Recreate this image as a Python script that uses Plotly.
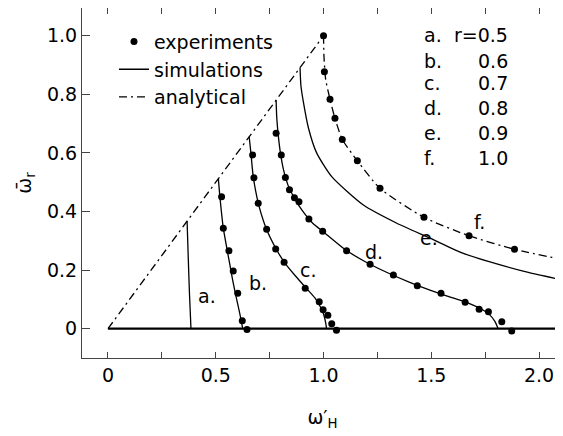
import plotly.graph_objects as go

# ---------------- data ----------------
# experiments (dots)
exp_b_x = [0.527, 0.535, 0.561, 0.581, 0.602, 0.623, 0.645]
exp_b_y = [0.450, 0.343, 0.266, 0.197, 0.121, 0.027, -0.003]
exp_c_x = [0.671, 0.677, 0.697, 0.736, 0.778, 0.817, 0.915, 0.980, 0.998, 1.020, 1.038, 1.060]
exp_c_y = [0.593, 0.515, 0.428, 0.339, 0.272, 0.227, 0.138, 0.092, 0.065, 0.046, 0.017, -0.005]
exp_d_x = [0.780, 0.804, 0.823, 0.842, 0.865, 0.886, 0.932, 0.996, 1.107, 1.216, 1.324, 1.435,
           1.545, 1.657, 1.722, 1.765, 1.827, 1.873]
exp_d_y = [0.667, 0.593, 0.516, 0.474, 0.447, 0.433, 0.374, 0.333, 0.266, 0.220, 0.183, 0.147,
           0.121, 0.090, 0.066, 0.058, 0.024, -0.008]
exp_f_x = [1.000, 1.004, 1.030, 1.053, 1.087, 1.157, 1.262, 1.466, 1.675, 1.886, 2.091]
exp_f_y = [1.000, 0.877, 0.783, 0.718, 0.646, 0.573, 0.479, 0.380, 0.317, 0.271, 0.239]

# simulations (solid lines)
sim_a_x = [0.367, 0.372, 0.378, 0.385]
sim_a_y = [0.367, 0.250, 0.120, 0.000]
sim_b_x = [0.512, 0.518, 0.526, 0.535, 0.550, 0.565, 0.580, 0.597, 0.612, 0.625]
sim_b_y = [0.512, 0.460, 0.400, 0.343, 0.280, 0.220, 0.160, 0.100, 0.050, 0.000]
sim_c_x = [0.655, 0.663, 0.672, 0.685, 0.700, 0.735, 0.780, 0.820, 0.870, 0.920, 0.960,
           0.985, 1.000, 1.010, 1.014]
sim_c_y = [0.655, 0.600, 0.530, 0.470, 0.420, 0.340, 0.272, 0.225, 0.180, 0.138, 0.105,
           0.075, 0.050, 0.020, 0.000]
sim_d_x = [0.780, 0.783, 0.790, 0.800, 0.815, 0.835, 0.865, 0.900, 0.950, 1.000, 1.100,
           1.200, 1.300, 1.400, 1.500, 1.600, 1.680, 1.730, 1.770, 1.795, 1.810]
sim_d_y = [0.780, 0.720, 0.660, 0.600, 0.540, 0.490, 0.445, 0.405, 0.360, 0.330, 0.270,
           0.226, 0.190, 0.158, 0.130, 0.105, 0.085, 0.068, 0.048, 0.025, 0.000]
sim_e_x = [0.891, 0.895, 0.905, 0.930, 0.968, 1.038, 1.185, 1.340, 1.494,
           1.649, 1.800, 1.950, 2.110]
sim_e_y = [0.891, 0.830, 0.780, 0.685, 0.600, 0.519, 0.422, 0.360, 0.309,
           0.257, 0.222, 0.192, 0.166]
sim_zero_x = [0.0, 2.11]
sim_zero_y = [0.0, 0.0]

# analytical (dash-dot)
ana_diag_x = [0.0, 1.0]
ana_diag_y = [0.0, 1.0]
ana_f_x = [1.000, 1.002, 1.010, 1.030, 1.053, 1.087, 1.157, 1.262, 1.466, 1.675, 1.886, 2.110]
ana_f_y = [1.000, 0.930, 0.850, 0.783, 0.718, 0.646, 0.573, 0.479, 0.380, 0.317, 0.271, 0.236]

# curve labels
curve_labels = ["a.", "b.", "c.", "d.", "e.", "f."]
curve_label_x = [0.458, 0.697, 0.930, 1.236, 1.487, 1.723]
curve_label_y = [0.110, 0.155, 0.200, 0.263, 0.309, 0.365]

# r-value table
r_letters = ["a.", "b.", "c.", "d.", "e.", "f."]
r_values = ["r=0.5", "0.6", "0.7", "0.8", "0.9", "1.0"]
r_rows_y = [1.002, 0.915, 0.839, 0.753, 0.669, 0.583]

x_tickvals = [0, 0.5, 1.0, 1.5, 2.0]
x_ticktext = ["0", "0.5", "1.0", "1.5", "2.0"]
y_tickvals = [0, 0.2, 0.4, 0.6, 0.8, 1.0]
y_ticktext = ["0", "0.2", "0.4", "0.6", "0.8", "1.0"]

# ---------------- figure ----------------
FONT = "DejaVu Sans"
fig = go.Figure()
line_w = 1.3
dashdot = "8px,4px,2px,4px"

# analytical
fig.add_trace(go.Scatter(x=ana_diag_x, y=ana_diag_y, mode="lines", name="analytical",
                         line=dict(color="black", width=line_w, dash=dashdot),
                         showlegend=True, legendrank=3))
fig.add_trace(go.Scatter(x=ana_f_x, y=ana_f_y, mode="lines", showlegend=False,
                         line=dict(color="black", width=line_w, dash=dashdot,
                                   shape="spline", smoothing=0.6)))

# simulations
sims = [(sim_a_x, sim_a_y), (sim_b_x, sim_b_y), (sim_c_x, sim_c_y),
        (sim_d_x, sim_d_y), (sim_e_x, sim_e_y)]
for i, (sx, sy) in enumerate(sims):
    fig.add_trace(go.Scatter(x=sx, y=sy, mode="lines", name="simulations",
                             line=dict(color="black", width=line_w, shape="spline",
                                       smoothing=0.6),
                             showlegend=(i == 0), legendrank=2))
fig.add_trace(go.Scatter(x=sim_zero_x, y=sim_zero_y, mode="lines", showlegend=False,
                         line=dict(color="black", width=2.2)))

# experiments
exps = [(exp_b_x, exp_b_y), (exp_c_x, exp_c_y), (exp_d_x, exp_d_y), (exp_f_x, exp_f_y)]
for i, (ex, ey) in enumerate(exps):
    fig.add_trace(go.Scatter(x=ex, y=ey, mode="markers", name="experiments",
                             marker=dict(color="black", size=7),
                             showlegend=(i == 0), legendrank=1))

annotations = []
for t, x, y in zip(curve_labels, curve_label_x, curve_label_y):
    annotations.append(dict(x=x, y=y, text=t, showarrow=False, xanchor="center",
                            yanchor="middle", font=dict(size=19, family=FONT, color="black")))
for t, v, y in zip(r_letters, r_values, r_rows_y):
    annotations.append(dict(x=1.456, y=y, text=t, showarrow=False, xanchor="left",
                            yanchor="middle", font=dict(size=19, family=FONT, color="black")))
    annotations.append(dict(x=1.865, y=y, text=v, showarrow=False, xanchor="right",
                            yanchor="middle", font=dict(size=19, family=FONT, color="black")))

# the page body adds an 8px offset; margins compensate for it
fig.update_layout(
    width=563, height=436,
    margin=dict(l=74, r=8, t=0, b=86),
    paper_bgcolor="white", plot_bgcolor="white",
    font=dict(family=FONT, size=19, color="black"),
    annotations=annotations,
    legend=dict(x=0.0665, y=0.958, xanchor="left", yanchor="top",
                bgcolor="rgba(0,0,0,0)", font=dict(size=19, family=FONT),
                itemwidth=30, tracegroupgap=0),
    xaxis=dict(range=[-0.1206, 2.111], tickvals=x_tickvals, ticktext=x_ticktext,
               ticks="inside", ticklen=6, tickcolor="#444", showgrid=False, zeroline=False,
               showline=True, linecolor="#444", linewidth=1.2, mirror="ticks",
               automargin=False,
               minor=dict(tickvals=[0.25, 0.75, 1.25, 1.75], ticks="inside", ticklen=6,
                          tickcolor="#444", showgrid=False),
               title=dict(text="ω′<sub>H</sub>", standoff=25, font=dict(size=19))),
    yaxis=dict(range=[-0.1, 1.0945], tickvals=y_tickvals, ticktext=y_ticktext,
               ticks="inside", ticklen=8, tickcolor="#444", showgrid=False, zeroline=False,
               showline=True, linecolor="#444", linewidth=1.2, mirror="ticks",
               automargin=False,
               title=dict(text="ω̄<sub>r</sub>", standoff=10, font=dict(size=19))),
)

fig.write_html("out.html")
